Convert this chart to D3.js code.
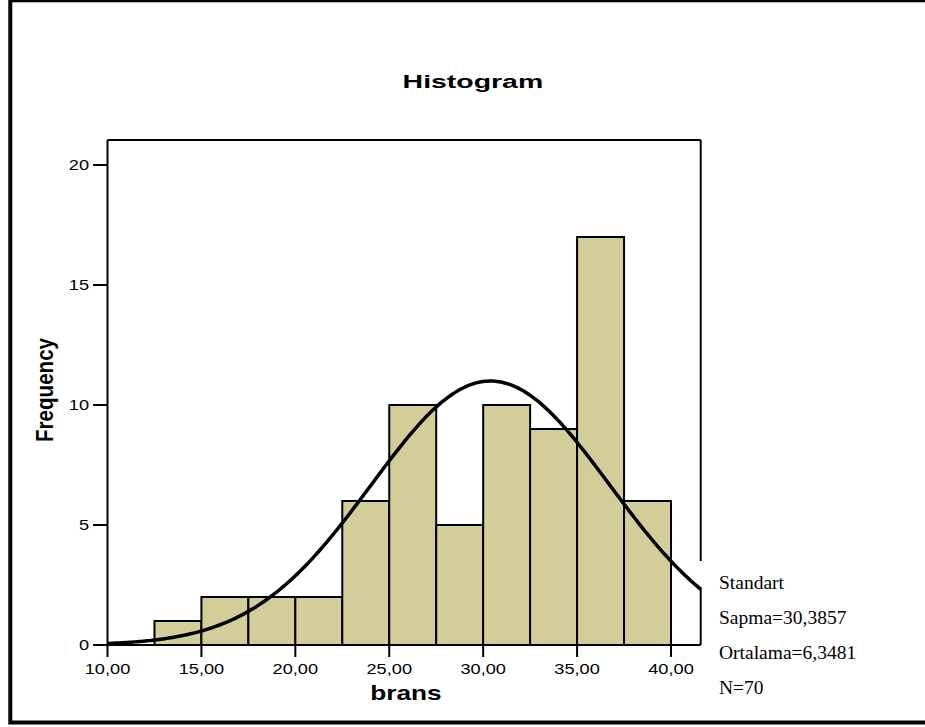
<!DOCTYPE html>
<html><head><meta charset="utf-8">
<script src="https://cdn.jsdelivr.net/npm/d3@7"></script>
<style>html,body{margin:0;padding:0;background:#fff;}svg{display:block;}</style>
</head><body>
<script>
// ---- data ----
const binEdges = [10, 12.5, 15, 17.5, 20, 22.5, 25, 27.5, 30, 32.5, 35, 37.5, 40];
const binCounts = [0, 1, 2, 2, 2, 6, 10, 5, 10, 9, 17, 6];
const xTicks = [10, 15, 20, 25, 30, 35, 40];
const xTickLabels = ["10,00", "15,00", "20,00", "25,00", "30,00", "35,00", "40,00"];
const yTicks = [0, 5, 10, 15, 20];
const fitMean = [30.3857];
const fitSd = [6.3481];
const fitN = [70];
const legendLines = ["Standart", "Sapma=30,3857", "Ortalama=6,3481", "N=70"];
const titleText = ["Histogram"];
const xLabel = ["brans"];
const yLabel = ["Frequency"];

const W = 925, H = 727;
const svg = d3.select("body").append("svg").attr("width", W).attr("height", H);

// outer frame
svg.append("rect").attr("x", 10.3).attr("y", 0.3).attr("width", 1000).attr("height", 722.2)
  .attr("fill", "none").attr("stroke", "#000").attr("stroke-width", 4);

const L = 107.5, R = 700.7, T = 140, B = 645;
const x = d3.scaleLinear().domain([10, 10 + (R - L) / ((671 - 107.5) / 30)]).range([L, R]);
const y = d3.scaleLinear().domain([0, (B - T) / 24]).range([B, T]);

function stext(g, tx, ty, sx, str, size, weight, family, anchor, rot) {
  const gg = g.append("g").attr("transform", `translate(${tx},${ty}) scale(${sx},1)` + (rot ? ` rotate(${rot})` : ""));
  return gg.append("text").attr("x", 0).attr("y", 0).attr("text-anchor", anchor)
    .attr("font-family", family).attr("font-size", size).attr("font-weight", weight)
    .attr("fill", "#000").text(str);
}

// title
stext(svg, 472.9, 88.3, 1.53, titleText[0], 18.6, "bold", "Liberation Sans, Arial, sans-serif", "middle");

// bars
const bars = binCounts.map((c, i) => ({x0: binEdges[i], x1: binEdges[i + 1], c})).filter(d => d.c > 0);
svg.append("g").selectAll("rect").data(bars).join("rect")
  .attr("x", d => x(d.x0)).attr("width", d => x(d.x1) - x(d.x0))
  .attr("y", d => y(d.c)).attr("height", d => y(0) - y(d.c))
  .attr("fill", "rgb(211,206,153)").attr("stroke", "#000").attr("stroke-width", 2);

// fitted normal curve
const bw = binEdges[1] - binEdges[0];
const dens = v => fitN[0] * bw / (fitSd[0] * Math.sqrt(2 * Math.PI)) * Math.exp(-0.5 * Math.pow((v - fitMean[0]) / fitSd[0], 2));
const xd = x.domain();
const pts = d3.range(0, 301).map(i => xd[0] + (xd[1] - xd[0]) * i / 300);
svg.append("clipPath").attr("id", "clip").append("rect").attr("x", L).attr("y", T).attr("width", R - L).attr("height", B - T);
svg.append("path").datum(pts).attr("clip-path", "url(#clip)")
  .attr("d", d3.line().x(v => x(v)).y(v => y(dens(v))))
  .attr("fill", "none").attr("stroke", "#000").attr("stroke-width", 3.5);

// plot frame
const fr = svg.append("g").attr("stroke", "#000").attr("stroke-width", 2).attr("fill", "none");
fr.append("line").attr("x1", L).attr("x2", R).attr("y1", T).attr("y2", T);
fr.append("line").attr("x1", L).attr("x2", R).attr("y1", B).attr("y2", B);
fr.append("line").attr("x1", L).attr("x2", L).attr("y1", T).attr("y2", B);
fr.append("line").attr("x1", R).attr("x2", R).attr("y1", T).attr("y2", 561);
fr.append("line").attr("x1", R).attr("x2", R).attr("y1", 587).attr("y2", B);

// y axis ticks
const yAx = svg.append("g");
yTicks.forEach(t => {
  yAx.append("line").attr("x1", 93).attr("x2", L).attr("y1", y(t)).attr("y2", y(t)).attr("stroke", "#000").attr("stroke-width", 2);
  stext(yAx, 89, y(t) + 5, 1.3, String(t), 14, "normal", "Liberation Sans, Arial, sans-serif", "end");
});
// x axis ticks
const xAx = svg.append("g");
xTicks.forEach((t, i) => {
  xAx.append("line").attr("x1", x(t)).attr("x2", x(t)).attr("y1", B).attr("y2", 657).attr("stroke", "#000").attr("stroke-width", 2);
  stext(xAx, x(t), 674.3, 1.3, xTickLabels[i], 14, "normal", "Liberation Sans, Arial, sans-serif", "middle");
});

// axis labels
stext(svg, 406, 700, 1.28, xLabel[0], 20.5, "bold", "Liberation Sans, Arial, sans-serif", "middle");
stext(svg, 53.3, 390, 1.125, yLabel[0], 20.6, "bold", "Liberation Sans, Arial, sans-serif", "middle", -90);

// legend
const legY = [589.3, 624, 658.7, 694];
legendLines.forEach((s, i) => {
  stext(svg, 719, legY[i], 1, s, 19.5, "normal", "Liberation Serif, Times New Roman, serif", "start");
});
</script>
</body></html>
